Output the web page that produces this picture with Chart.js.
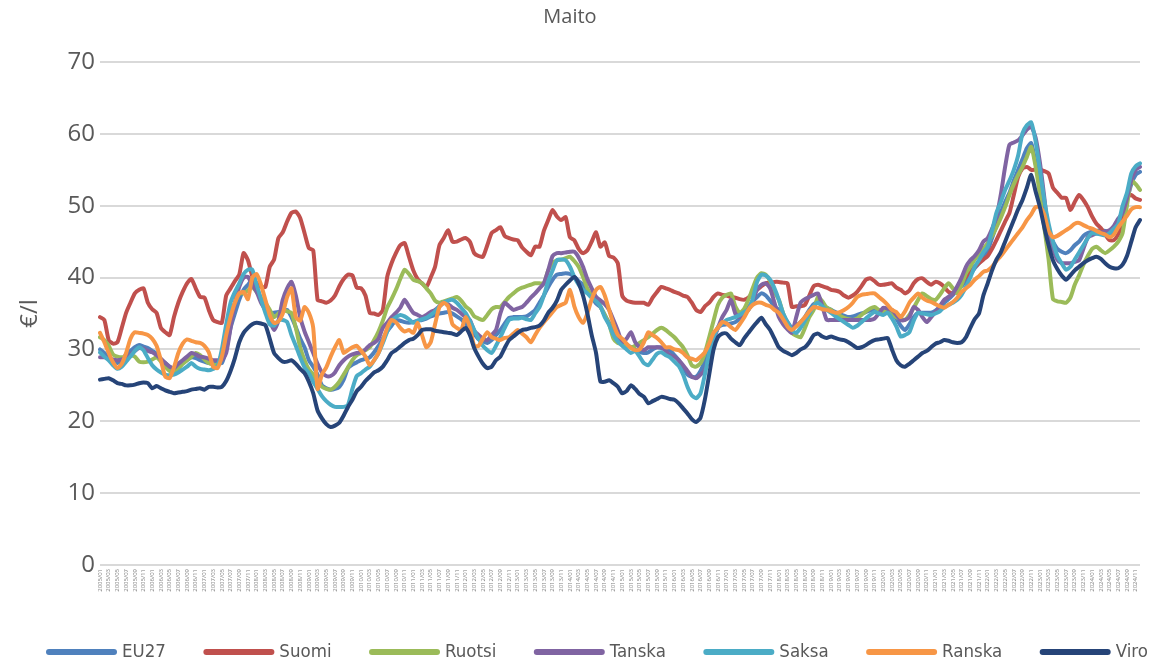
<!DOCTYPE html>
<html>
<head>
<meta charset="utf-8">
<script src="https://cdn.jsdelivr.net/npm/chart.js@4.4.1/dist/chart.umd.min.js"></script>
<style>
  html, body { margin: 0; padding: 0; background: #ffffff; overflow: hidden; }
</style>
</head>
<body>
<canvas id="plot" width="1156" height="664"></canvas>
<script>
// kuukaudet 2005/01 ... 2024/12
let kuukaudet = [];
for (let v = 2005; v <= 2024; v++)
    for (let k = 1; k <= 12; k++)
        kuukaudet.push(v + '/' + (k < 10 ? '0' + k : k));

let sarjat = ['EU27', 'Suomi', 'Ruotsi', 'Tanska', 'Saksa', 'Ranska', 'Viro'];
let varit = ['#4F81BD', '#C0504D', '#9BBB59', '#8064A2', '#4BACC6', '#F79646', '#264478'];

// €/l, yksi rivi = yksi vuosi
let eu27 = [
    30.0,29.5,28.9,28.4,28.1,28.5,29.3,29.8,30.3,30.6,30.4,30.2,
    29.8,29.4,28.6,28.1,27.6,27.4,27.7,28.1,28.5,28.9,28.8,28.5,
    28.3,28.1,28.0,28.1,28.1,30.0,33.0,35.0,36.9,38.3,39.0,39.7,
    38.5,37.0,35.5,35.1,35.1,35.2,35.3,35.5,34.5,33.1,31.5,30.3,
    28.5,27.6,26.5,25.0,24.6,24.4,24.5,24.8,25.8,27.4,27.9,28.2,
    28.5,28.7,28.9,29.6,30.5,31.5,32.5,33.3,34.1,34.0,33.8,33.7,
    33.8,34.0,34.1,34.3,34.6,34.8,35.0,35.1,35.2,35.0,34.6,34.2,
    33.6,33.1,32.2,31.4,31.1,30.9,31.3,32.0,32.7,33.6,34.4,34.5,
    34.5,34.5,34.6,35.0,35.5,36.5,37.5,38.7,39.7,40.4,40.5,40.6,
    40.5,40.1,39.5,39.0,38.3,37.3,36.4,35.9,34.8,33.7,32.8,31.8,
    31.2,30.7,30.3,30.0,29.7,29.5,29.6,30.0,30.3,30.2,30.0,29.9,
    29.2,28.5,27.5,26.5,26.2,26.2,27.0,28.3,29.9,31.5,33.0,33.4,
    33.5,33.6,33.8,34.3,35.0,35.8,36.7,37.3,37.8,37.5,36.8,36.0,
    35.5,34.6,33.8,33.0,33.3,33.8,34.5,35.5,36.3,36.6,36.2,35.8,
    35.5,35.2,34.9,34.7,34.5,34.6,34.8,35.0,35.2,35.4,35.5,35.4,
    35.3,35.2,35.1,34.3,33.3,32.7,33.5,34.5,35.1,35.1,35.1,35.1,
    35.4,35.9,36.5,37.0,37.6,38.3,38.8,39.6,40.4,41.3,42.0,42.8,
    43.8,45.5,47.2,49.0,50.5,51.8,53.5,55.0,56.5,58.0,58.7,56.0,
    52.6,48.5,46.2,45.0,44.0,43.6,43.4,43.8,44.5,45.0,45.8,46.2,
    46.4,46.5,46.6,46.5,46.3,46.2,47.5,49.0,50.8,53.0,54.3,54.7
];
let suomi = [
    34.5,34.1,31.3,30.8,31.0,33.0,35.1,36.5,37.8,38.3,38.5,36.5,
    35.6,35.1,33.0,32.4,32.0,34.5,36.5,38.0,39.2,39.8,38.5,37.3,
    37.2,35.5,34.1,33.8,33.7,37.5,38.5,39.5,40.4,43.4,42.4,40.2,
    39.2,38.7,38.7,41.5,42.5,45.5,46.3,47.8,49.0,49.2,48.3,46.2,
    44.1,43.8,36.9,36.7,36.5,36.8,37.5,38.8,39.8,40.4,40.3,38.6,
    38.5,37.5,35.1,35.0,34.8,35.5,40.1,42.0,43.4,44.5,44.8,42.9,
    41.0,39.8,39.2,38.7,40.0,41.5,44.5,45.5,46.6,45.0,45.0,45.3,
    45.5,45.0,43.4,43.0,42.9,44.5,46.2,46.6,47.0,45.8,45.5,45.3,
    45.2,44.2,43.6,43.1,44.3,44.3,46.5,48.0,49.4,48.5,48.0,48.4,
    45.6,45.2,44.0,43.4,43.8,45.0,46.3,44.3,44.9,43.0,42.8,42.0,
    37.5,36.8,36.6,36.5,36.5,36.5,36.2,37.2,38.0,38.7,38.5,38.3,
    38.0,37.8,37.5,37.3,36.5,35.5,35.2,36.0,36.5,37.3,37.8,37.6,
    37.5,37.3,37.2,37.0,36.9,37.2,37.8,38.3,38.8,39.2,39.3,39.4,
    39.4,39.3,39.2,35.9,36.0,36.0,36.2,37.5,38.8,39.0,38.8,38.6,
    38.3,38.2,38.0,37.5,37.2,37.5,38.0,38.8,39.7,39.9,39.5,39.0,
    39.0,39.1,39.2,38.6,38.3,37.8,38.2,39.2,39.8,39.9,39.4,39.0,
    39.4,39.2,38.7,38.0,37.8,38.5,39.3,40.1,40.8,41.5,42.0,42.5,
    43.0,44.0,45.2,46.5,47.8,49.0,51.5,54.0,55.2,55.4,55.0,55.0,
    55.0,54.8,54.5,52.5,51.8,51.1,51.1,49.4,50.5,51.5,50.8,49.8,
    48.5,47.5,46.9,46.0,45.2,45.2,46.0,47.6,51.2,51.5,51.0,50.8
];
let ruotsi = [
    31.7,31.3,30.5,29.3,29.0,28.9,29.0,29.2,29.0,28.3,28.2,28.3,
    28.6,28.9,28.3,27.6,27.0,26.7,27.3,28.0,28.5,29.0,29.5,29.2,
    28.6,28.1,27.9,27.8,29.5,32.0,35.1,36.5,37.8,37.8,38.2,38.7,
    38.0,37.2,36.5,35.5,34.5,35.0,35.5,35.3,35.1,33.0,30.3,28.5,
    27.2,26.5,25.5,24.8,24.5,24.4,24.8,25.5,26.5,27.5,28.5,29.2,
    29.5,29.9,30.3,31.3,32.5,34.0,35.8,37.0,38.3,39.8,41.1,40.5,
    39.7,39.5,39.2,38.5,37.8,36.8,36.5,36.7,36.9,37.1,37.3,36.8,
    36.0,35.5,34.6,34.3,34.1,34.8,35.6,35.9,35.9,36.6,37.3,37.8,
    38.3,38.6,38.8,39.0,39.2,39.2,39.2,41.0,42.0,42.4,42.5,42.7,
    42.9,42.3,41.5,40.1,38.5,37.5,37.3,36.0,34.8,33.5,31.5,30.9,
    30.8,30.6,30.3,30.5,30.9,31.3,31.7,32.2,32.7,33.0,32.7,32.2,
    31.7,31.0,30.3,29.2,27.8,27.6,28.1,29.5,31.7,34.0,36.2,37.2,
    37.6,37.8,36.0,35.1,35.6,36.9,38.5,40.0,40.6,40.4,39.5,38.0,
    36.9,35.0,33.5,32.3,31.9,31.7,33.0,34.5,35.5,37.3,36.7,35.8,
    35.5,35.0,34.7,34.4,34.2,34.1,34.3,34.8,35.3,35.7,35.9,35.5,
    35.3,35.1,34.8,34.5,34.3,34.1,34.8,35.8,36.9,37.8,37.4,37.0,
    36.9,37.6,38.5,39.2,38.5,37.8,39.0,40.6,41.5,42.5,43.2,44.0,
    44.8,45.8,47.0,48.3,49.8,51.5,53.0,54.3,55.4,56.8,58.2,55.5,
    51.5,47.0,42.5,37.0,36.7,36.6,36.5,37.2,39.0,40.3,41.8,43.0,
    44.0,44.3,43.8,43.4,43.8,44.3,45.0,46.2,50.0,53.5,53.0,52.2
];
let tanska = [
    28.9,28.9,28.8,28.6,28.5,28.6,28.8,29.3,29.8,30.2,30.1,29.8,
    29.6,29.2,28.7,28.1,27.6,27.4,28.0,28.5,29.0,29.5,29.3,29.0,
    28.9,28.7,28.5,28.5,28.5,29.5,33.0,36.5,38.7,40.0,40.1,39.0,
    38.0,36.5,35.5,34.0,32.7,34.0,36.9,38.5,39.4,37.5,34.5,32.5,
    31.0,29.5,28.0,26.8,26.3,26.3,26.8,27.8,28.5,29.0,29.3,29.5,
    29.6,30.0,30.6,30.9,31.5,33.0,33.7,34.5,35.1,35.8,36.9,36.0,
    35.1,34.8,34.5,34.8,35.2,35.5,36.0,36.5,36.3,35.8,35.5,35.0,
    34.5,34.1,32.6,32.0,31.5,31.3,32.0,32.7,35.0,36.5,36.0,35.5,
    35.7,35.9,36.5,37.2,37.8,38.5,39.2,41.0,43.0,43.4,43.4,43.5,
    43.6,43.6,42.8,41.5,39.8,38.5,37.3,36.8,36.3,35.5,34.1,32.6,
    31.0,31.5,32.4,31.0,30.3,29.9,30.3,30.3,30.3,30.3,29.8,29.2,
    29.0,28.5,27.8,27.0,26.2,26.0,26.5,27.1,29.0,31.3,33.0,34.5,
    35.5,36.9,35.0,34.5,35.0,35.5,36.8,38.3,39.0,39.2,38.5,36.5,
    34.5,33.5,32.8,32.3,34.5,36.5,37.0,37.3,37.6,37.8,36.0,34.1,
    34.1,34.1,34.1,34.1,34.1,34.1,34.1,34.1,34.1,34.1,34.3,35.0,
    35.8,35.7,35.5,34.8,34.1,34.1,34.5,35.9,35.5,34.5,33.8,34.5,
    35.2,36.0,36.9,37.3,37.8,38.8,40.0,41.5,42.4,43.0,43.8,45.0,
    45.5,46.8,48.4,51.5,55.4,58.5,58.8,59.1,59.8,60.6,61.0,59.5,
    56.0,51.2,46.0,44.0,42.5,42.0,42.0,42.0,42.2,42.4,44.0,45.6,
    45.9,46.2,46.3,46.4,46.6,47.2,48.2,49.0,51.0,53.6,55.0,55.4
];
let saksa = [
    29.6,29.0,28.5,27.8,27.3,27.6,28.3,29.0,29.8,30.3,29.9,28.8,
    27.8,27.2,26.8,26.5,26.4,26.5,26.8,27.2,27.6,28.1,27.6,27.3,
    27.2,27.1,27.3,27.6,30.0,33.5,36.5,38.0,39.2,40.5,41.1,41.1,
    39.0,37.0,35.1,33.5,33.3,34.0,34.1,33.8,32.0,30.5,28.9,27.5,
    26.7,25.5,24.5,23.5,22.8,22.3,22.0,22.0,22.0,22.3,24.5,26.3,
    26.7,27.2,27.6,28.5,29.5,30.9,32.5,34.0,34.5,34.8,34.6,34.2,
    33.7,34.0,34.2,34.4,34.8,35.3,36.0,36.5,36.8,36.9,36.5,35.8,
    35.1,34.0,32.7,31.5,30.5,29.9,29.5,30.5,31.7,33.0,34.1,34.3,
    34.3,34.4,34.2,34.1,35.0,35.9,37.5,39.5,41.0,42.4,42.5,42.4,
    41.5,40.1,39.0,38.3,37.8,37.2,36.7,36.0,34.5,33.4,32.0,31.1,
    30.5,30.0,29.5,29.8,29.0,28.1,27.8,28.6,29.4,29.6,29.2,28.9,
    28.3,27.7,26.5,24.8,23.6,23.2,23.9,26.5,29.5,31.5,33.1,33.6,
    34.1,34.3,34.5,34.8,35.2,35.5,37.0,39.4,40.4,40.3,39.7,38.5,
    36.9,35.0,33.8,32.7,32.3,33.0,34.0,35.0,36.0,36.5,36.0,35.5,
    35.1,34.6,34.2,33.8,33.4,33.0,33.3,33.8,34.3,34.8,35.2,35.0,
    34.8,35.1,34.3,33.2,31.8,32.0,32.4,34.0,35.1,35.0,34.9,34.8,
    35.0,35.3,35.9,36.2,36.5,36.9,37.6,38.7,40.0,41.5,42.4,43.5,
    44.3,46.5,49.0,50.5,52.2,53.5,55.0,57.0,60.1,61.2,61.6,59.0,
    55.0,50.8,47.5,45.0,43.0,42.0,41.1,41.5,42.5,43.5,44.5,45.5,
    46.2,46.1,46.0,45.9,46.2,46.8,47.5,50.0,51.8,54.5,55.5,55.9
];
let ranska = [
    32.3,31.0,29.5,28.2,27.4,28.0,29.5,31.5,32.4,32.3,32.2,32.0,
    31.5,30.5,28.5,26.2,26.0,27.5,29.5,30.8,31.4,31.2,31.0,30.9,
    30.5,29.6,27.6,27.4,29.0,32.0,34.5,36.5,37.8,38.0,37.0,40.0,
    40.5,39.0,36.9,34.8,33.7,33.9,35.0,37.3,38.5,34.5,34.0,35.9,
    35.1,33.0,24.5,26.5,27.5,29.0,30.3,31.3,29.5,29.9,30.3,30.5,
    29.8,29.0,27.8,28.5,29.5,31.2,33.0,34.1,33.8,33.0,32.5,32.7,
    32.3,33.7,32.0,30.3,31.0,33.5,35.9,36.5,36.0,33.5,33.0,32.7,
    34.5,33.1,30.5,30.5,31.5,32.4,31.7,31.5,31.3,31.6,31.7,32.2,
    32.7,32.2,31.7,31.0,32.0,33.0,33.8,34.5,35.2,35.9,36.2,36.5,
    38.3,36.0,34.5,33.7,35.0,37.0,38.3,38.7,37.5,35.5,33.5,32.0,
    31.5,30.8,30.2,29.9,30.0,31.0,32.4,32.0,31.6,31.0,30.3,30.3,
    30.0,29.9,29.5,28.9,28.7,28.5,29.0,29.6,30.8,32.3,33.0,33.8,
    33.6,33.1,32.7,33.5,34.4,35.5,36.2,36.5,36.5,36.2,36.0,35.5,
    35.1,34.2,33.2,32.7,33.2,33.8,34.5,35.3,35.9,35.8,35.6,35.5,
    35.3,35.1,35.2,35.5,35.9,36.5,37.3,37.6,37.7,37.8,37.8,37.3,
    36.8,36.2,35.5,35.2,34.5,35.3,36.5,37.2,37.8,37.2,36.8,36.6,
    36.3,36.0,35.8,36.2,36.6,37.2,38.0,38.5,39.0,39.7,40.2,40.8,
    41.0,41.5,42.3,43.0,43.8,44.6,45.4,46.2,47.0,48.0,48.8,49.8,
    49.8,48.8,46.5,45.6,45.8,46.2,46.6,47.0,47.5,47.6,47.3,47.0,
    46.8,46.5,46.2,46.0,45.6,46.0,47.0,47.8,48.6,49.5,49.8,49.8
];
let viro = [
    25.8,25.9,26.0,25.7,25.3,25.2,25.0,25.0,25.1,25.3,25.4,25.3,
    24.6,24.9,24.6,24.3,24.1,23.9,24.0,24.1,24.2,24.4,24.5,24.6,
    24.4,24.8,24.8,24.7,24.8,25.6,27.0,28.8,31.0,32.3,33.0,33.5,
    33.7,33.6,33.4,31.5,29.5,28.8,28.3,28.3,28.5,28.0,27.3,26.7,
    25.5,23.9,21.5,20.4,19.6,19.2,19.4,19.8,20.8,22.0,23.0,24.2,
    24.8,25.6,26.2,26.8,27.1,27.6,28.5,29.5,29.9,30.4,30.9,31.3,
    31.5,32.0,32.7,32.8,32.8,32.6,32.5,32.4,32.3,32.2,32.0,32.5,
    33.0,32.0,30.2,29.0,28.0,27.4,27.6,28.5,29.0,30.2,31.3,31.8,
    32.3,32.7,32.8,33.0,33.1,33.3,34.0,35.1,35.8,36.8,38.3,39.0,
    39.6,40.1,39.2,37.5,35.0,32.0,29.5,25.5,25.5,25.7,25.3,24.8,
    23.9,24.2,25.0,24.5,23.8,23.4,22.5,22.8,23.1,23.4,23.3,23.1,
    23.0,22.5,21.8,21.1,20.3,19.9,20.5,23.0,26.5,30.0,31.7,32.2,
    32.2,31.5,31.0,30.6,31.5,32.3,33.1,33.8,34.4,33.5,32.7,31.5,
    30.3,29.8,29.5,29.2,29.5,30.0,30.3,31.0,32.0,32.2,31.8,31.6,
    31.8,31.6,31.4,31.3,31.0,30.6,30.2,30.3,30.6,31.0,31.3,31.4,
    31.5,31.6,30.0,28.5,27.8,27.6,28.0,28.5,29.0,29.5,29.8,30.3,
    30.8,31.0,31.3,31.2,31.0,30.9,31.0,31.7,33.0,34.2,35.0,37.5,
    39.2,41.0,42.5,43.5,45.0,46.5,48.0,49.5,50.8,52.5,54.3,52.0,
    49.8,47.0,44.5,42.4,41.2,40.3,39.7,40.3,41.0,41.5,42.0,42.4,
    42.7,42.9,42.6,42.0,41.5,41.3,41.3,41.8,43.0,45.0,47.0,48.0
];
let arvot = [eu27, suomi, ruotsi, tanska, saksa, ranska, viro];

let harmaa = '#595959';

// legenda piirretään itse, jotta viivanäytteet saadaan samanlaisiksi kuin Excelissä
let legendaAlas = {
    id: 'legendaAlas',
    afterDraw: chart => {
        let ctx = chart.ctx;
        ctx.save();
        ctx.font = '18.5px "Liberation Sans Narrow", "DejaVu Sans Condensed", sans-serif';
        ctx.textBaseline = 'middle';
        let x = 46, y = 652;
        chart.data.datasets.forEach(ds => {
            ctx.strokeStyle = ds.borderColor;
            ctx.lineWidth = 6;
            ctx.lineCap = 'round';
            ctx.beginPath();
            ctx.moveTo(x + 3, y);
            ctx.lineTo(x + 68, y);
            ctx.stroke();
            ctx.fillStyle = harmaa;
            ctx.fillText(ds.label, x + 76, y);
            x += 76 + ctx.measureText(ds.label).width + 37.5;
        });
        ctx.restore();
    }
};

let plotRef = document.getElementById('plot');

let config = {
    type: 'line',
    data: {
        labels: kuukaudet,
        datasets: sarjat.map((nimi, i) => ({
            label: nimi,
            data: arvot[i],
            borderColor: varit[i],
            backgroundColor: varit[i],
            order: sarjat.length - i
        }))
    },
    options: {
        responsive: false,
        animation: false,
        layout: { padding: { left: 0, right: 16, top: 0, bottom: 59 } },
        elements: {
            point: { radius: 0 },
            line: { borderWidth: 4, tension: 0.2, borderCapStyle: 'round', borderJoinStyle: 'round', fill: false }
        },
        plugins: {
            legend: { display: false },
            tooltip: { enabled: false },
            title: {
                display: true,
                text: 'Maito',
                color: harmaa,
                font: { family: 'Open Sans', size: 20, weight: 'normal' },
                padding: { top: 5, bottom: 33 }
            }
        },
        scales: {
            x: {
                grid: { display: false, drawTicks: false },
                border: { display: false },
                ticks: {
                    autoSkip: false,
                    maxRotation: 90,
                    minRotation: 90,
                    padding: 4,
                    color: '#7F7F7F',
                    font: { family: 'Open Sans', size: 6 },
                    callback: (v, i) => i % 2 === 0 ? kuukaudet[i] : ''
                },
                afterFit: s => { s.height = 40; }
            },
            y: {
                min: 0,
                max: 70,
                grid: { color: '#D9D9D9', lineWidth: 2, drawTicks: false },
                border: { display: false },
                ticks: {
                    stepSize: 10,
                    padding: 5,
                    color: harmaa,
                    font: { family: 'Open Sans', size: 24 }
                },
                title: {
                    display: true,
                    text: '€/l',
                    color: harmaa,
                    font: { family: 'Open Sans', size: 24 },
                    padding: { top: 16, bottom: 0 }
                },
                afterFit: s => { s.width = 100; }
            }
        }
    },
    plugins: [legendaAlas]
};

let chart1 = new Chart(plotRef, config);
</script>
</body>
</html>
